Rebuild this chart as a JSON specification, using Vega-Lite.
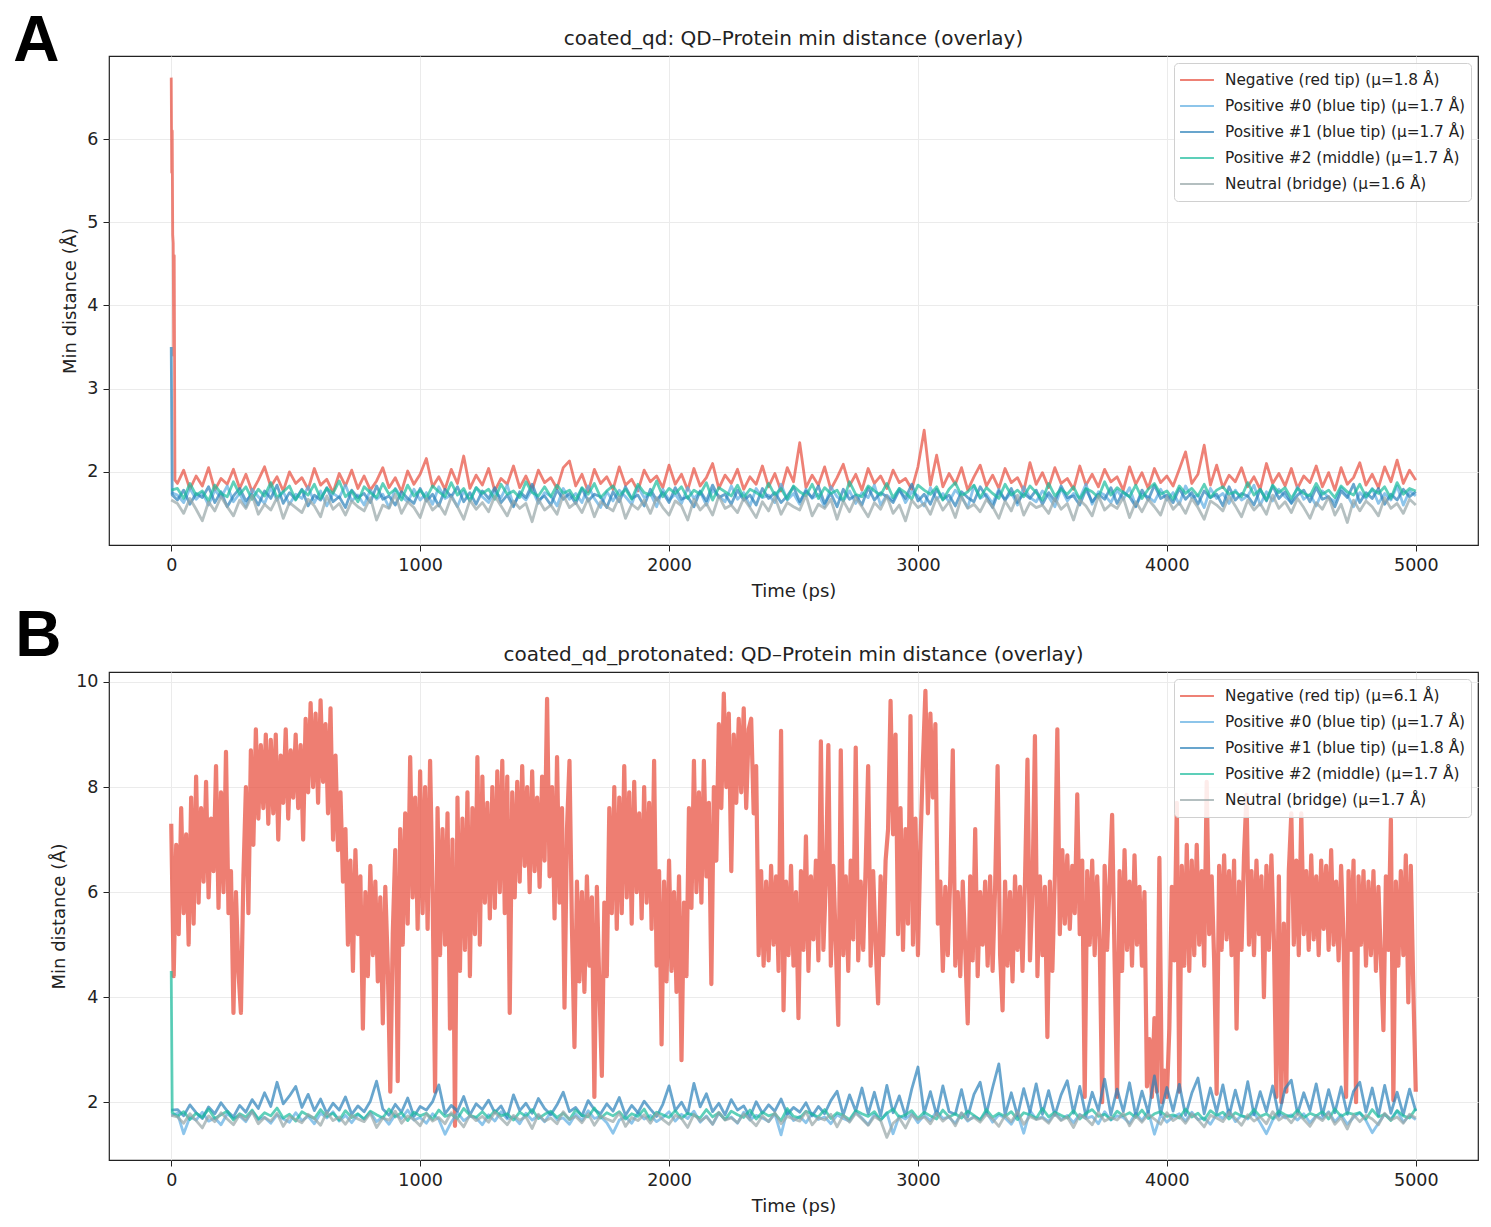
{
  "$schema": "https://vega.github.io/schema/vega-lite/v6.json",
  "background": "white",
  "padding": {"left": 13, "top": 10, "right": 8, "bottom": 5},
  "config": {
    "font": "DejaVu Sans",
    "view": {"stroke": "#222222", "strokeWidth": 1.2},
    "axis": {
      "grid": true, "gridColor": "#ebebeb", "domain": false,
      "tickColor": "#222222", "tickSize": 6, "labelPadding": 5,
      "labelFont": "DejaVu Sans", "labelFontSize": 17.5, "labelColor": "#222222",
      "titleFont": "DejaVu Sans", "titleFontSize": 18, "titleFontWeight": "normal", "titleColor": "#222222"
    },
    "legend": {
      "orient": "top-right", "offset": 7, "title": null,
      "labelFont": "DejaVu Sans", "labelFontSize": 15.3, "labelColor": "#222222", "labelLimit": 400,
      "symbolType": "stroke", "symbolSize": 1150, "symbolStrokeWidth": 2, "symbolOpacity": 0.7,
      "fillColor": "rgba(255,255,255,0.85)", "strokeColor": "#d0d0d0", "cornerRadius": 4,
      "padding": 5, "rowPadding": 2, "clipHeight": 24, "labelOffset": 10
    }
  },
  "resolve": {
    "scale": {"x": "independent", "y": "independent", "color": "independent"},
    "axis": {"x": "independent", "y": "independent"},
    "legend": {"color": "independent"}
  },
  "columns": 1,
  "align": "none",
  "spacing": 3,
  "datasets": {
    "dA": [
      {"t":0,"n":6.74,"p":1.75,"q":3.5,"r":1.78,"u":1.66},
      {"t":2,"n":5.6},{"t":4,"n":6.1,"q":1.72},{"t":6,"n":4.85},{"t":8,"n":4.75},{"t":10,"n":3.4},{"t":12,"n":4.6},{"t":15,"n":1.9},
      {"t":25,"n":1.86,"p":1.72,"q":1.66,"r":1.80,"u":1.62},
      {"t":50,"n":2.02,"p":1.63,"q":1.78,"r":1.68,"u":1.50},
      {"t":75,"n":1.79,"p":1.80,"q":1.61,"r":1.86,"u":1.68},
      {"t":100,"n":1.95,"p":1.67,"q":1.74,"r":1.72,"u":1.55},
      {"t":125,"n":1.83,"p":1.75,"q":1.69,"r":1.77,"u":1.41},
      {"t":150,"n":2.05,"p":1.60,"q":1.82,"r":1.65,"u":1.64},
      {"t":175,"n":1.78,"p":1.78,"q":1.63,"r":1.84,"u":1.53},
      {"t":200,"n":1.92,"p":1.69,"q":1.76,"r":1.74,"u":1.70},
      {"t":225,"n":1.85,"p":1.83,"q":1.58,"r":1.70,"u":1.58},
      {"t":250,"n":2.03,"p":1.64,"q":1.71,"r":1.88,"u":1.47},
      {"t":275,"n":1.80,"p":1.74,"q":1.80,"r":1.73,"u":1.66},
      {"t":300,"n":1.97,"p":1.58,"q":1.65,"r":1.82,"u":1.56},
      {"t":325,"n":1.76,"p":1.79,"q":1.73,"r":1.67,"u":1.72},
      {"t":350,"n":1.90,"p":1.70,"q":1.60,"r":1.79,"u":1.49},
      {"t":375,"n":2.06,"p":1.62,"q":1.77,"r":1.71,"u":1.61},
      {"t":400,"n":1.82,"p":1.81,"q":1.68,"r":1.87,"u":1.54},
      {"t":425,"n":1.94,"p":1.66,"q":1.84,"r":1.69,"u":1.69},
      {"t":450,"n":1.77,"p":1.76,"q":1.62,"r":1.76,"u":1.44},
      {"t":475,"n":2.00,"p":1.61,"q":1.75,"r":1.83,"u":1.63},
      {"t":500,"n":1.86,"p":1.73,"q":1.67,"r":1.66,"u":1.57},
      {"t":525,"n":1.93,"p":1.68,"q":1.79,"r":1.78,"u":1.51},
      {"t":550,"n":1.79,"p":1.82,"q":1.59,"r":1.72,"u":1.67},
      {"t":575,"n":2.04,"p":1.63,"q":1.72,"r":1.85,"u":1.59},
      {"t":600,"n":1.84,"p":1.77,"q":1.66,"r":1.68,"u":1.46},
      {"t":625,"n":1.91,"p":1.59,"q":1.81,"r":1.80,"u":1.71},
      {"t":650,"n":1.75,"p":1.74,"q":1.64,"r":1.74,"u":1.55},
      {"t":675,"n":1.98,"p":1.69,"q":1.70,"r":1.89,"u":1.62},
      {"t":700,"n":1.83,"p":1.84,"q":1.57,"r":1.70,"u":1.48},
      {"t":725,"n":2.02,"p":1.65,"q":1.78,"r":1.77,"u":1.65},
      {"t":750,"n":1.80,"p":1.72,"q":1.69,"r":1.64,"u":1.58},
      {"t":775,"n":1.95,"p":1.60,"q":1.74,"r":1.82,"u":1.53},
      {"t":800,"n":1.78,"p":1.78,"q":1.63,"r":1.75,"u":1.69},
      {"t":825,"n":1.89,"p":1.67,"q":1.83,"r":1.69,"u":1.42},
      {"t":850,"n":2.05,"p":1.73,"q":1.67,"r":1.86,"u":1.60},
      {"t":875,"n":1.81,"p":1.57,"q":1.71,"r":1.73,"u":1.56},
      {"t":900,"n":1.93,"p":1.80,"q":1.60,"r":1.79,"u":1.73},
      {"t":925,"n":1.76,"p":1.70,"q":1.76,"r":1.66,"u":1.50},
      {"t":950,"n":2.01,"p":1.64,"q":1.68,"r":1.84,"u":1.64},
      {"t":975,"n":1.85,"p":1.79,"q":1.62,"r":1.71,"u":1.57},
      {"t":1000,"n":1.97,"p":1.66,"q":1.80,"r":1.78,"u":1.45},
      {"t":1025,"n":2.16,"p":1.75,"q":1.65,"r":1.68,"u":1.68},
      {"t":1050,"n":1.82,"p":1.61,"q":1.73,"r":1.83,"u":1.54},
      {"t":1075,"n":1.94,"p":1.82,"q":1.59,"r":1.76,"u":1.61},
      {"t":1100,"n":1.79,"p":1.68,"q":1.79,"r":1.70,"u":1.49},
      {"t":1125,"n":2.03,"p":1.72,"q":1.70,"r":1.87,"u":1.70},
      {"t":1150,"n":1.86,"p":1.58,"q":1.82,"r":1.72,"u":1.58},
      {"t":1175,"n":2.19,"p":1.77,"q":1.64,"r":1.80,"u":1.43},
      {"t":1200,"n":1.80,"p":1.65,"q":1.75,"r":1.65,"u":1.66},
      {"t":1225,"n":1.96,"p":1.81,"q":1.61,"r":1.81,"u":1.55},
      {"t":1250,"n":1.84,"p":1.70,"q":1.77,"r":1.74,"u":1.63},
      {"t":1275,"n":2.04,"p":1.63,"q":1.68,"r":1.79,"u":1.52},
      {"t":1300,"n":1.77,"p":1.76,"q":1.81,"r":1.67,"u":1.71},
      {"t":1325,"n":1.92,"p":1.69,"q":1.63,"r":1.85,"u":1.59},
      {"t":1350,"n":1.85,"p":1.84,"q":1.72,"r":1.73,"u":1.47},
      {"t":1375,"n":2.07,"p":1.60,"q":1.58,"r":1.77,"u":1.65},
      {"t":1400,"n":1.81,"p":1.73,"q":1.76,"r":1.69,"u":1.56},
      {"t":1425,"n":1.95,"p":1.66,"q":1.69,"r":1.88,"u":1.62},
      {"t":1450,"n":1.78,"p":1.79,"q":1.85,"r":1.75,"u":1.40},
      {"t":1475,"n":2.02,"p":1.62,"q":1.66,"r":1.71,"u":1.67},
      {"t":1500,"n":1.87,"p":1.75,"q":1.71,"r":1.82,"u":1.54},
      {"t":1525,"n":1.93,"p":1.71,"q":1.60,"r":1.70,"u":1.60},
      {"t":1550,"n":1.80,"p":1.59,"q":1.78,"r":1.84,"u":1.49},
      {"t":1575,"n":2.05,"p":1.80,"q":1.67,"r":1.74,"u":1.72},
      {"t":1600,"n":2.13,"p":1.67,"q":1.74,"r":1.78,"u":1.57},
      {"t":1625,"n":1.83,"p":1.74,"q":1.62,"r":1.66,"u":1.63},
      {"t":1650,"n":1.97,"p":1.63,"q":1.80,"r":1.81,"u":1.51},
      {"t":1675,"n":1.76,"p":1.83,"q":1.65,"r":1.73,"u":1.68},
      {"t":1700,"n":2.03,"p":1.68,"q":1.73,"r":1.86,"u":1.46},
      {"t":1725,"n":1.86,"p":1.57,"q":1.70,"r":1.69,"u":1.64},
      {"t":1750,"n":1.94,"p":1.76,"q":1.57,"r":1.77,"u":1.58},
      {"t":1775,"n":1.79,"p":1.65,"q":1.76,"r":1.83,"u":1.53},
      {"t":1800,"n":2.06,"p":1.78,"q":1.64,"r":1.71,"u":1.70},
      {"t":1825,"n":1.84,"p":1.70,"q":1.82,"r":1.79,"u":1.44},
      {"t":1850,"n":1.91,"p":1.61,"q":1.68,"r":1.67,"u":1.61},
      {"t":1875,"n":1.77,"p":1.82,"q":1.72,"r":1.85,"u":1.55},
      {"t":1900,"n":2.02,"p":1.69,"q":1.59,"r":1.75,"u":1.66},
      {"t":1925,"n":1.88,"p":1.74,"q":1.79,"r":1.72,"u":1.50},
      {"t":1950,"n":1.95,"p":1.58,"q":1.66,"r":1.89,"u":1.69},
      {"t":1975,"n":1.81,"p":1.79,"q":1.75,"r":1.70,"u":1.57},
      {"t":2000,"n":2.08,"p":1.66,"q":1.63,"r":1.80,"u":1.48},
      {"t":2025,"n":1.85,"p":1.73,"q":1.81,"r":1.74,"u":1.65},
      {"t":2050,"n":1.97,"p":1.62,"q":1.67,"r":1.82,"u":1.59},
      {"t":2075,"n":1.78,"p":1.81,"q":1.70,"r":1.68,"u":1.42},
      {"t":2100,"n":2.04,"p":1.68,"q":1.58,"r":1.78,"u":1.67},
      {"t":2125,"n":1.83,"p":1.76,"q":1.77,"r":1.73,"u":1.54},
      {"t":2150,"n":1.93,"p":1.60,"q":1.65,"r":1.87,"u":1.62},
      {"t":2175,"n":2.10,"p":1.78,"q":1.84,"r":1.66,"u":1.48},
      {"t":2200,"n":1.80,"p":1.71,"q":1.69,"r":1.81,"u":1.71},
      {"t":2225,"n":1.96,"p":1.64,"q":1.73,"r":1.76,"u":1.56},
      {"t":2250,"n":1.86,"p":1.83,"q":1.61,"r":1.71,"u":1.60},
      {"t":2275,"n":2.03,"p":1.67,"q":1.78,"r":1.84,"u":1.51},
      {"t":2300,"n":1.79,"p":1.75,"q":1.66,"r":1.69,"u":1.68},
      {"t":2325,"n":1.94,"p":1.59,"q":1.72,"r":1.79,"u":1.57},
      {"t":2350,"n":1.85,"p":1.80,"q":1.60,"r":1.75,"u":1.45},
      {"t":2375,"n":2.07,"p":1.69,"q":1.80,"r":1.70,"u":1.64},
      {"t":2400,"n":1.82,"p":1.72,"q":1.68,"r":1.86,"u":1.53},
      {"t":2425,"n":1.98,"p":1.63,"q":1.75,"r":1.72,"u":1.70},
      {"t":2450,"n":1.77,"p":1.85,"q":1.63,"r":1.80,"u":1.49},
      {"t":2475,"n":2.05,"p":1.66,"q":1.71,"r":1.67,"u":1.63},
      {"t":2500,"n":1.88,"p":1.74,"q":1.82,"r":1.83,"u":1.58},
      {"t":2525,"n":2.35,"p":1.61,"q":1.64,"r":1.76,"u":1.54},
      {"t":2550,"n":1.81,"p":1.79,"q":1.77,"r":1.71,"u":1.72},
      {"t":2575,"n":1.96,"p":1.68,"q":1.69,"r":1.85,"u":1.47},
      {"t":2600,"n":1.84,"p":1.73,"q":1.83,"r":1.68,"u":1.61},
      {"t":2625,"n":2.06,"p":1.58,"q":1.62,"r":1.81,"u":1.56},
      {"t":2650,"n":1.79,"p":1.82,"q":1.74,"r":1.74,"u":1.67},
      {"t":2675,"n":1.93,"p":1.70,"q":1.58,"r":1.78,"u":1.43},
      {"t":2700,"n":2.09,"p":1.65,"q":1.79,"r":1.65,"u":1.65},
      {"t":2725,"n":1.83,"p":1.77,"q":1.67,"r":1.88,"u":1.52},
      {"t":2750,"n":1.97,"p":1.62,"q":1.72,"r":1.73,"u":1.69},
      {"t":2775,"n":1.78,"p":1.75,"q":1.60,"r":1.70,"u":1.58},
      {"t":2800,"n":2.04,"p":1.69,"q":1.81,"r":1.83,"u":1.46},
      {"t":2825,"n":1.86,"p":1.84,"q":1.66,"r":1.77,"u":1.63},
      {"t":2850,"n":1.95,"p":1.60,"q":1.75,"r":1.72,"u":1.55},
      {"t":2875,"n":1.80,"p":1.72,"q":1.70,"r":1.86,"u":1.71},
      {"t":2900,"n":2.02,"p":1.66,"q":1.63,"r":1.69,"u":1.50},
      {"t":2925,"n":1.87,"p":1.80,"q":1.78,"r":1.80,"u":1.60},
      {"t":2950,"n":1.92,"p":1.63,"q":1.68,"r":1.75,"u":1.41},
      {"t":2975,"n":1.79,"p":1.76,"q":1.85,"r":1.67,"u":1.66},
      {"t":3000,"n":2.06,"p":1.71,"q":1.65,"r":1.84,"u":1.57},
      {"t":3025,"n":2.50,"p":1.59,"q":1.73,"r":1.78,"u":1.62},
      {"t":3050,"n":1.84,"p":1.81,"q":1.61,"r":1.73,"u":1.49},
      {"t":3075,"n":2.20,"p":1.67,"q":1.79,"r":1.82,"u":1.69},
      {"t":3100,"n":1.82,"p":1.74,"q":1.67,"r":1.66,"u":1.54},
      {"t":3125,"n":1.98,"p":1.64,"q":1.72,"r":1.79,"u":1.64},
      {"t":3150,"n":1.85,"p":1.78,"q":1.59,"r":1.87,"u":1.45},
      {"t":3175,"n":2.05,"p":1.70,"q":1.76,"r":1.71,"u":1.70},
      {"t":3200,"n":1.78,"p":1.57,"q":1.69,"r":1.76,"u":1.56},
      {"t":3225,"n":1.94,"p":1.83,"q":1.64,"r":1.84,"u":1.61},
      {"t":3250,"n":2.08,"p":1.68,"q":1.82,"r":1.69,"u":1.52},
      {"t":3275,"n":1.83,"p":1.73,"q":1.70,"r":1.81,"u":1.67},
      {"t":3300,"n":1.96,"p":1.62,"q":1.57,"r":1.74,"u":1.58},
      {"t":3325,"n":1.80,"p":1.79,"q":1.77,"r":1.68,"u":1.44},
      {"t":3350,"n":2.04,"p":1.66,"q":1.66,"r":1.85,"u":1.65},
      {"t":3375,"n":1.87,"p":1.75,"q":1.80,"r":1.72,"u":1.53},
      {"t":3400,"n":1.93,"p":1.60,"q":1.63,"r":1.78,"u":1.72},
      {"t":3425,"n":1.77,"p":1.82,"q":1.74,"r":1.70,"u":1.48},
      {"t":3450,"n":2.11,"p":1.69,"q":1.68,"r":1.83,"u":1.63},
      {"t":3475,"n":1.85,"p":1.64,"q":1.78,"r":1.75,"u":1.57},
      {"t":3500,"n":1.99,"p":1.77,"q":1.61,"r":1.66,"u":1.60},
      {"t":3525,"n":1.81,"p":1.70,"q":1.75,"r":1.86,"u":1.50},
      {"t":3550,"n":2.05,"p":1.58,"q":1.65,"r":1.71,"u":1.68},
      {"t":3575,"n":1.86,"p":1.80,"q":1.83,"r":1.79,"u":1.55},
      {"t":3600,"n":1.92,"p":1.65,"q":1.69,"r":1.73,"u":1.62},
      {"t":3625,"n":1.79,"p":1.74,"q":1.71,"r":1.82,"u":1.42},
      {"t":3650,"n":2.07,"p":1.68,"q":1.60,"r":1.67,"u":1.66},
      {"t":3675,"n":1.84,"p":1.85,"q":1.79,"r":1.80,"u":1.59},
      {"t":3700,"n":1.97,"p":1.61,"q":1.64,"r":1.76,"u":1.47},
      {"t":3725,"n":1.82,"p":1.76,"q":1.73,"r":1.69,"u":1.71},
      {"t":3750,"n":2.03,"p":1.72,"q":1.67,"r":1.88,"u":1.54},
      {"t":3775,"n":1.88,"p":1.63,"q":1.81,"r":1.72,"u":1.61},
      {"t":3800,"n":1.94,"p":1.78,"q":1.62,"r":1.81,"u":1.56},
      {"t":3825,"n":1.78,"p":1.67,"q":1.76,"r":1.75,"u":1.69},
      {"t":3850,"n":2.06,"p":1.81,"q":1.70,"r":1.70,"u":1.45},
      {"t":3875,"n":1.85,"p":1.59,"q":1.58,"r":1.84,"u":1.64},
      {"t":3900,"n":1.99,"p":1.73,"q":1.78,"r":1.68,"u":1.52},
      {"t":3925,"n":1.80,"p":1.70,"q":1.66,"r":1.79,"u":1.67},
      {"t":3950,"n":2.04,"p":1.64,"q":1.84,"r":1.86,"u":1.58},
      {"t":3975,"n":1.87,"p":1.79,"q":1.68,"r":1.73,"u":1.48},
      {"t":4000,"n":1.95,"p":1.66,"q":1.72,"r":1.77,"u":1.70},
      {"t":4025,"n":1.83,"p":1.75,"q":1.63,"r":1.67,"u":1.55},
      {"t":4050,"n":2.03,"p":1.61,"q":1.80,"r":1.83,"u":1.63},
      {"t":4075,"n":2.24,"p":1.83,"q":1.67,"r":1.74,"u":1.50},
      {"t":4100,"n":1.86,"p":1.69,"q":1.75,"r":1.80,"u":1.68},
      {"t":4125,"n":1.97,"p":1.72,"q":1.61,"r":1.71,"u":1.57},
      {"t":4150,"n":2.32,"p":1.57,"q":1.77,"r":1.85,"u":1.43},
      {"t":4175,"n":1.84,"p":1.80,"q":1.69,"r":1.69,"u":1.65},
      {"t":4200,"n":2.08,"p":1.68,"q":1.73,"r":1.78,"u":1.60},
      {"t":4225,"n":1.81,"p":1.74,"q":1.59,"r":1.82,"u":1.53},
      {"t":4250,"n":1.96,"p":1.62,"q":1.82,"r":1.73,"u":1.71},
      {"t":4275,"n":1.88,"p":1.78,"q":1.66,"r":1.76,"u":1.59},
      {"t":4300,"n":2.05,"p":1.66,"q":1.74,"r":1.70,"u":1.46},
      {"t":4325,"n":1.82,"p":1.71,"q":1.71,"r":1.87,"u":1.66},
      {"t":4350,"n":1.94,"p":1.84,"q":1.60,"r":1.72,"u":1.54},
      {"t":4375,"n":1.79,"p":1.60,"q":1.79,"r":1.79,"u":1.62},
      {"t":4400,"n":2.10,"p":1.76,"q":1.65,"r":1.66,"u":1.49},
      {"t":4425,"n":1.86,"p":1.65,"q":1.83,"r":1.84,"u":1.72},
      {"t":4450,"n":1.98,"p":1.79,"q":1.68,"r":1.75,"u":1.56},
      {"t":4475,"n":1.83,"p":1.70,"q":1.76,"r":1.81,"u":1.64},
      {"t":4500,"n":2.04,"p":1.63,"q":1.62,"r":1.68,"u":1.51},
      {"t":4525,"n":1.80,"p":1.82,"q":1.72,"r":1.80,"u":1.68},
      {"t":4550,"n":1.95,"p":1.67,"q":1.78,"r":1.74,"u":1.57},
      {"t":4575,"n":1.87,"p":1.73,"q":1.64,"r":1.71,"u":1.44},
      {"t":4600,"n":2.07,"p":1.59,"q":1.81,"r":1.86,"u":1.63},
      {"t":4625,"n":1.82,"p":1.77,"q":1.67,"r":1.73,"u":1.55},
      {"t":4650,"n":1.99,"p":1.69,"q":1.70,"r":1.78,"u":1.70},
      {"t":4675,"n":1.78,"p":1.64,"q":1.58,"r":1.69,"u":1.48},
      {"t":4700,"n":2.05,"p":1.81,"q":1.77,"r":1.83,"u":1.61},
      {"t":4725,"n":1.85,"p":1.72,"q":1.69,"r":1.76,"u":1.39},
      {"t":4750,"n":1.93,"p":1.58,"q":1.85,"r":1.72,"u":1.66},
      {"t":4775,"n":2.11,"p":1.75,"q":1.63,"r":1.85,"u":1.53},
      {"t":4800,"n":1.84,"p":1.68,"q":1.75,"r":1.70,"u":1.65},
      {"t":4825,"n":1.97,"p":1.80,"q":1.68,"r":1.79,"u":1.58},
      {"t":4850,"n":1.81,"p":1.62,"q":1.80,"r":1.74,"u":1.47},
      {"t":4875,"n":2.06,"p":1.74,"q":1.61,"r":1.82,"u":1.69},
      {"t":4900,"n":1.88,"p":1.66,"q":1.73,"r":1.68,"u":1.56},
      {"t":4925,"n":2.14,"p":1.83,"q":1.66,"r":1.87,"u":1.62},
      {"t":4950,"n":1.86,"p":1.60,"q":1.79,"r":1.73,"u":1.50},
      {"t":4975,"n":2.02,"p":1.77,"q":1.70,"r":1.80,"u":1.67},
      {"t":5000,"n":1.90,"p":1.71,"q":1.76,"r":1.77,"u":1.60}
    ],
    "dB": [
      {"t":0,"p":1.75,"q":1.85,"r":4.5,"u":1.75},
      {"t":4,"r":1.8},
      {"t":25,"p":1.79,"q":1.86,"r":1.73,"u":1.72},
      {"t":50,"p":1.40,"q":1.74,"r":1.82,"u":1.60},
      {"t":75,"p":1.72,"q":1.95,"r":1.67,"u":1.78},
      {"t":100,"p":1.66,"q":1.80,"r":1.79,"u":1.65},
      {"t":125,"p":1.81,"q":1.69,"r":1.71,"u":1.51},
      {"t":150,"p":1.64,"q":1.91,"r":1.87,"u":1.74},
      {"t":175,"p":1.70,"q":1.78,"r":1.69,"u":1.63},
      {"t":200,"p":1.57,"q":1.99,"r":1.76,"u":1.80},
      {"t":225,"p":1.78,"q":1.83,"r":1.83,"u":1.68},
      {"t":250,"p":1.69,"q":1.72,"r":1.66,"u":1.57},
      {"t":275,"p":1.74,"q":1.94,"r":1.78,"u":1.76},
      {"t":300,"p":1.63,"q":1.81,"r":1.72,"u":1.66},
      {"t":325,"p":1.83,"q":2.05,"r":1.85,"u":1.82},
      {"t":350,"p":1.67,"q":1.88,"r":1.68,"u":1.59},
      {"t":375,"p":1.71,"q":2.18,"r":1.80,"u":1.71},
      {"t":400,"p":1.60,"q":1.92,"r":1.74,"u":1.64},
      {"t":425,"p":1.76,"q":2.38,"r":1.89,"u":1.79},
      {"t":450,"p":1.68,"q":1.97,"r":1.70,"u":1.54},
      {"t":475,"p":1.62,"q":2.12,"r":1.77,"u":1.73},
      {"t":500,"p":1.80,"q":2.30,"r":1.64,"u":1.67},
      {"t":525,"p":1.65,"q":1.90,"r":1.82,"u":1.61},
      {"t":550,"p":1.73,"q":2.15,"r":1.75,"u":1.77},
      {"t":575,"p":1.59,"q":1.84,"r":1.69,"u":1.69},
      {"t":600,"p":1.79,"q":2.06,"r":1.86,"u":1.56},
      {"t":625,"p":1.70,"q":1.79,"r":1.73,"u":1.81},
      {"t":650,"p":1.82,"q":1.98,"r":1.79,"u":1.65},
      {"t":675,"p":1.64,"q":1.85,"r":1.66,"u":1.72},
      {"t":700,"p":1.75,"q":2.10,"r":1.84,"u":1.58},
      {"t":725,"p":1.61,"q":1.77,"r":1.71,"u":1.75},
      {"t":750,"p":1.77,"q":1.93,"r":1.78,"u":1.68},
      {"t":775,"p":1.68,"q":1.82,"r":1.68,"u":1.63},
      {"t":800,"p":1.81,"q":2.02,"r":1.83,"u":1.79},
      {"t":825,"p":1.63,"q":2.40,"r":1.76,"u":1.52},
      {"t":850,"p":1.72,"q":1.87,"r":1.70,"u":1.70},
      {"t":875,"p":1.58,"q":1.75,"r":1.87,"u":1.66},
      {"t":900,"p":1.76,"q":1.96,"r":1.72,"u":1.83},
      {"t":925,"p":1.69,"q":1.81,"r":1.80,"u":1.60},
      {"t":950,"p":1.85,"q":2.08,"r":1.65,"u":1.74},
      {"t":975,"p":1.66,"q":1.73,"r":1.81,"u":1.67},
      {"t":1000,"p":1.71,"q":1.92,"r":1.74,"u":1.55},
      {"t":1025,"p":1.60,"q":1.85,"r":1.79,"u":1.78},
      {"t":1050,"p":1.78,"q":2.01,"r":1.67,"u":1.64},
      {"t":1075,"p":1.67,"q":2.33,"r":1.85,"u":1.71},
      {"t":1100,"p":1.39,"q":1.78,"r":1.73,"u":1.59},
      {"t":1125,"p":1.62,"q":1.94,"r":1.77,"u":1.80},
      {"t":1150,"p":1.80,"q":1.83,"r":1.69,"u":1.68},
      {"t":1175,"p":1.65,"q":2.11,"r":1.88,"u":1.53},
      {"t":1200,"p":1.73,"q":1.76,"r":1.75,"u":1.76},
      {"t":1225,"p":1.70,"q":1.97,"r":1.71,"u":1.65},
      {"t":1250,"p":1.57,"q":1.86,"r":1.82,"u":1.73},
      {"t":1275,"p":1.76,"q":2.04,"r":1.70,"u":1.62},
      {"t":1300,"p":1.64,"q":1.80,"r":1.84,"u":1.81},
      {"t":1325,"p":1.82,"q":1.93,"r":1.74,"u":1.69},
      {"t":1350,"p":1.68,"q":1.71,"r":1.78,"u":1.57},
      {"t":1375,"p":1.72,"q":2.14,"r":1.66,"u":1.75},
      {"t":1400,"p":1.59,"q":1.84,"r":1.81,"u":1.66},
      {"t":1425,"p":1.79,"q":1.98,"r":1.73,"u":1.72},
      {"t":1450,"p":1.66,"q":1.79,"r":1.86,"u":1.50},
      {"t":1475,"p":1.75,"q":2.07,"r":1.69,"u":1.77},
      {"t":1500,"p":1.63,"q":1.88,"r":1.77,"u":1.64},
      {"t":1525,"p":1.81,"q":1.76,"r":1.83,"u":1.70},
      {"t":1550,"p":1.67,"q":1.95,"r":1.71,"u":1.59},
      {"t":1575,"p":1.70,"q":2.19,"r":1.79,"u":1.82},
      {"t":1600,"p":1.58,"q":1.82,"r":1.67,"u":1.67},
      {"t":1625,"p":1.77,"q":1.90,"r":1.85,"u":1.73},
      {"t":1650,"p":1.65,"q":1.74,"r":1.75,"u":1.61},
      {"t":1675,"p":1.84,"q":2.03,"r":1.72,"u":1.78},
      {"t":1700,"p":1.69,"q":1.86,"r":1.89,"u":1.56},
      {"t":1725,"p":1.73,"q":1.78,"r":1.70,"u":1.74},
      {"t":1750,"p":1.61,"q":1.97,"r":1.80,"u":1.68},
      {"t":1775,"p":1.41,"q":1.83,"r":1.74,"u":1.63},
      {"t":1800,"p":1.66,"q":2.09,"r":1.82,"u":1.80},
      {"t":1825,"p":1.72,"q":1.75,"r":1.68,"u":1.54},
      {"t":1850,"p":1.60,"q":1.94,"r":1.78,"u":1.71},
      {"t":1875,"p":1.80,"q":1.80,"r":1.73,"u":1.65},
      {"t":1900,"p":1.68,"q":2.02,"r":1.87,"u":1.76},
      {"t":1925,"p":1.75,"q":1.87,"r":1.66,"u":1.60},
      {"t":1950,"p":1.63,"q":1.73,"r":1.81,"u":1.79},
      {"t":1975,"p":1.71,"q":1.96,"r":1.76,"u":1.67},
      {"t":2000,"p":1.82,"q":2.31,"r":1.71,"u":1.58},
      {"t":2025,"p":1.64,"q":1.84,"r":1.84,"u":1.75},
      {"t":2050,"p":1.77,"q":2.00,"r":1.69,"u":1.69},
      {"t":2075,"p":1.69,"q":1.78,"r":1.79,"u":1.52},
      {"t":2100,"p":1.83,"q":2.36,"r":1.75,"u":1.77},
      {"t":2125,"p":1.62,"q":1.91,"r":1.70,"u":1.64},
      {"t":2150,"p":1.74,"q":2.16,"r":1.86,"u":1.72},
      {"t":2175,"p":1.58,"q":1.82,"r":1.72,"u":1.58},
      {"t":2200,"p":1.79,"q":1.98,"r":1.80,"u":1.81},
      {"t":2225,"p":1.67,"q":1.76,"r":1.67,"u":1.66},
      {"t":2250,"p":1.72,"q":2.05,"r":1.83,"u":1.70},
      {"t":2275,"p":1.60,"q":1.85,"r":1.76,"u":1.61},
      {"t":2300,"p":1.81,"q":1.93,"r":1.71,"u":1.78},
      {"t":2325,"p":1.66,"q":1.72,"r":1.85,"u":1.67},
      {"t":2350,"p":1.75,"q":2.01,"r":1.68,"u":1.55},
      {"t":2375,"p":1.70,"q":1.79,"r":1.81,"u":1.74},
      {"t":2400,"p":1.63,"q":1.95,"r":1.74,"u":1.63},
      {"t":2425,"p":1.78,"q":1.83,"r":1.78,"u":1.80},
      {"t":2450,"p":1.38,"q":2.06,"r":1.65,"u":1.59},
      {"t":2475,"p":1.85,"q":1.77,"r":1.88,"u":1.73},
      {"t":2500,"p":1.65,"q":1.90,"r":1.73,"u":1.68},
      {"t":2525,"p":1.73,"q":1.81,"r":1.70,"u":1.64},
      {"t":2550,"p":1.61,"q":1.99,"r":1.83,"u":1.82},
      {"t":2575,"p":1.79,"q":1.74,"r":1.77,"u":1.57},
      {"t":2600,"p":1.67,"q":1.92,"r":1.72,"u":1.71},
      {"t":2625,"p":1.72,"q":1.78,"r":1.86,"u":1.66},
      {"t":2650,"p":1.59,"q":2.03,"r":1.69,"u":1.77},
      {"t":2675,"p":1.76,"q":2.21,"r":1.80,"u":1.53},
      {"t":2700,"p":1.69,"q":1.76,"r":1.75,"u":1.75},
      {"t":2725,"p":1.64,"q":2.14,"r":1.67,"u":1.62},
      {"t":2750,"p":1.82,"q":1.83,"r":1.84,"u":1.79},
      {"t":2775,"p":1.70,"q":2.27,"r":1.78,"u":1.68},
      {"t":2800,"p":1.57,"q":1.78,"r":1.73,"u":1.56},
      {"t":2825,"p":1.77,"q":2.19,"r":1.82,"u":1.73},
      {"t":2850,"p":1.66,"q":1.74,"r":1.66,"u":1.65},
      {"t":2875,"p":1.80,"q":2.32,"r":1.79,"u":1.33},
      {"t":2900,"p":1.40,"q":1.80,"r":1.87,"u":1.60},
      {"t":2925,"p":1.74,"q":2.12,"r":1.71,"u":1.70},
      {"t":2950,"p":1.68,"q":1.73,"r":1.76,"u":1.51},
      {"t":2975,"p":1.78,"q":2.25,"r":1.84,"u":1.76},
      {"t":3000,"p":1.61,"q":2.67,"r":1.69,"u":1.67},
      {"t":3025,"p":1.75,"q":1.79,"r":1.81,"u":1.72},
      {"t":3050,"p":1.65,"q":2.20,"r":1.74,"u":1.59},
      {"t":3075,"p":1.83,"q":1.75,"r":1.68,"u":1.79},
      {"t":3100,"p":1.69,"q":2.31,"r":1.85,"u":1.64},
      {"t":3125,"p":1.71,"q":1.82,"r":1.72,"u":1.74},
      {"t":3150,"p":1.60,"q":1.77,"r":1.78,"u":1.55},
      {"t":3175,"p":1.79,"q":2.24,"r":1.70,"u":1.80},
      {"t":3200,"p":1.64,"q":1.72,"r":1.83,"u":1.66},
      {"t":3225,"p":1.73,"q":2.15,"r":1.75,"u":1.71},
      {"t":3250,"p":1.67,"q":2.38,"r":1.66,"u":1.62},
      {"t":3275,"p":1.81,"q":1.78,"r":1.86,"u":1.77},
      {"t":3300,"p":1.62,"q":2.28,"r":1.71,"u":1.68},
      {"t":3325,"p":1.76,"q":2.73,"r":1.79,"u":1.54},
      {"t":3350,"p":1.70,"q":1.76,"r":1.73,"u":1.75},
      {"t":3375,"p":1.58,"q":2.18,"r":1.82,"u":1.63},
      {"t":3400,"p":1.78,"q":1.74,"r":1.67,"u":1.82},
      {"t":3425,"p":1.41,"q":2.26,"r":1.80,"u":1.58},
      {"t":3450,"p":1.84,"q":1.81,"r":1.76,"u":1.73},
      {"t":3475,"p":1.68,"q":2.35,"r":1.69,"u":1.67},
      {"t":3500,"p":1.72,"q":1.77,"r":1.88,"u":1.70},
      {"t":3525,"p":1.63,"q":2.22,"r":1.72,"u":1.60},
      {"t":3550,"p":1.80,"q":1.75,"r":1.81,"u":1.78},
      {"t":3575,"p":1.67,"q":2.14,"r":1.75,"u":1.65},
      {"t":3600,"p":1.75,"q":2.41,"r":1.70,"u":1.72},
      {"t":3625,"p":1.61,"q":1.79,"r":1.84,"u":1.52},
      {"t":3650,"p":1.77,"q":2.30,"r":1.68,"u":1.76},
      {"t":3675,"p":1.69,"q":1.73,"r":1.79,"u":1.69},
      {"t":3700,"p":1.73,"q":2.19,"r":1.86,"u":1.57},
      {"t":3725,"p":1.59,"q":1.84,"r":1.73,"u":1.81},
      {"t":3750,"p":1.82,"q":2.44,"r":1.77,"u":1.64},
      {"t":3775,"p":1.66,"q":1.76,"r":1.67,"u":1.71},
      {"t":3800,"p":1.74,"q":2.25,"r":1.83,"u":1.66},
      {"t":3825,"p":1.71,"q":1.82,"r":1.74,"u":1.79},
      {"t":3850,"p":1.60,"q":2.37,"r":1.80,"u":1.55},
      {"t":3875,"p":1.79,"q":1.74,"r":1.71,"u":1.74},
      {"t":3900,"p":1.65,"q":2.21,"r":1.85,"u":1.62},
      {"t":3925,"p":1.83,"q":1.80,"r":1.69,"u":1.77},
      {"t":3950,"p":1.39,"q":2.50,"r":1.78,"u":1.68},
      {"t":3975,"p":1.76,"q":1.77,"r":1.82,"u":1.58},
      {"t":4000,"p":1.62,"q":2.28,"r":1.73,"u":1.80},
      {"t":4025,"p":1.72,"q":1.83,"r":1.76,"u":1.65},
      {"t":4050,"p":1.78,"q":2.34,"r":1.70,"u":1.73},
      {"t":4075,"p":1.64,"q":1.75,"r":1.87,"u":1.60},
      {"t":4100,"p":1.81,"q":2.17,"r":1.72,"u":1.78},
      {"t":4125,"p":1.67,"q":2.46,"r":1.79,"u":1.67},
      {"t":4150,"p":1.70,"q":1.78,"r":1.66,"u":1.53},
      {"t":4175,"p":1.58,"q":2.27,"r":1.84,"u":1.75},
      {"t":4200,"p":1.77,"q":1.81,"r":1.75,"u":1.70},
      {"t":4225,"p":1.69,"q":2.33,"r":1.81,"u":1.63},
      {"t":4250,"p":1.85,"q":1.74,"r":1.68,"u":1.81},
      {"t":4275,"p":1.63,"q":2.23,"r":1.80,"u":1.69},
      {"t":4300,"p":1.75,"q":1.79,"r":1.74,"u":1.56},
      {"t":4325,"p":1.68,"q":2.39,"r":1.71,"u":1.76},
      {"t":4350,"p":1.80,"q":1.76,"r":1.86,"u":1.64},
      {"t":4375,"p":1.61,"q":2.20,"r":1.73,"u":1.72},
      {"t":4400,"p":1.40,"q":1.82,"r":1.78,"u":1.59},
      {"t":4425,"p":1.66,"q":2.31,"r":1.69,"u":1.82},
      {"t":4450,"p":1.79,"q":1.73,"r":1.83,"u":1.66},
      {"t":4475,"p":1.70,"q":2.26,"r":1.76,"u":1.74},
      {"t":4500,"p":1.76,"q":2.42,"r":1.72,"u":1.61},
      {"t":4525,"p":1.66,"q":1.78,"r":1.85,"u":1.78},
      {"t":4550,"p":1.78,"q":2.18,"r":1.70,"u":1.67},
      {"t":4575,"p":1.61,"q":1.84,"r":1.79,"u":1.54},
      {"t":4600,"p":1.74,"q":2.35,"r":1.74,"u":1.73},
      {"t":4625,"p":1.69,"q":1.75,"r":1.82,"u":1.65},
      {"t":4650,"p":1.82,"q":2.24,"r":1.68,"u":1.80},
      {"t":4675,"p":1.63,"q":1.80,"r":1.87,"u":1.58},
      {"t":4700,"p":1.76,"q":2.29,"r":1.73,"u":1.71},
      {"t":4725,"p":1.58,"q":1.77,"r":1.80,"u":1.49},
      {"t":4750,"p":1.71,"q":2.21,"r":1.77,"u":1.76},
      {"t":4775,"p":1.80,"q":2.38,"r":1.80,"u":1.63},
      {"t":4800,"p":1.65,"q":1.81,"r":1.68,"u":1.75},
      {"t":4825,"p":1.42,"q":2.27,"r":1.86,"u":1.68},
      {"t":4850,"p":1.60,"q":1.74,"r":1.72,"u":1.57},
      {"t":4875,"p":1.77,"q":2.32,"r":1.77,"u":1.79},
      {"t":4900,"p":1.68,"q":1.79,"r":1.65,"u":1.66},
      {"t":4925,"p":1.84,"q":2.19,"r":1.84,"u":1.72},
      {"t":4950,"p":1.62,"q":1.76,"r":1.74,"u":1.60},
      {"t":4975,"p":1.75,"q":2.25,"r":1.70,"u":1.77},
      {"t":5000,"p":1.67,"q":1.83,"r":1.88,"u":1.70}
    ],
    "nB": [
      {"t":0,"v":7.3},{"t":10,"v":4.4},{"t":20,"v":6.9},{"t":30,"v":5.2},{"t":40,"v":7.6},{"t":50,"v":5.6},{"t":60,"v":7.1},{"t":70,"v":5.0},{"t":80,"v":7.8},{"t":90,"v":5.4},
      {"t":100,"v":8.2},{"t":110,"v":5.8},{"t":120,"v":7.6},{"t":130,"v":6.2},{"t":140,"v":8.1},{"t":150,"v":5.9},{"t":160,"v":7.4},{"t":170,"v":6.4},{"t":180,"v":8.4},{"t":190,"v":5.7},
      {"t":200,"v":7.9},{"t":210,"v":6.0},{"t":220,"v":8.67},{"t":230,"v":5.6},{"t":240,"v":6.4},{"t":250,"v":3.7},{"t":260,"v":6.0},{"t":270,"v":4.5},{"t":280,"v":3.7},{"t":290,"v":6.3},
      {"t":300,"v":8.0},{"t":310,"v":5.6},{"t":320,"v":8.7},{"t":330,"v":6.9},{"t":340,"v":9.1},{"t":350,"v":7.4},{"t":360,"v":8.8},{"t":370,"v":7.6},{"t":380,"v":9.0},{"t":390,"v":7.3},
      {"t":400,"v":8.9},{"t":410,"v":7.5},{"t":420,"v":9.0},{"t":430,"v":7.0},{"t":440,"v":8.6},{"t":450,"v":7.7},{"t":460,"v":9.1},{"t":470,"v":7.4},{"t":480,"v":8.7},{"t":490,"v":7.8},
      {"t":500,"v":9.0},{"t":510,"v":7.6},{"t":520,"v":8.8},{"t":530,"v":7.0},{"t":540,"v":9.3},{"t":550,"v":7.9},{"t":560,"v":9.6},{"t":570,"v":8.0},{"t":580,"v":9.4},{"t":590,"v":7.7},
      {"t":600,"v":9.65},{"t":610,"v":8.1},{"t":620,"v":9.2},{"t":630,"v":7.5},{"t":640,"v":9.5},{"t":650,"v":7.0},{"t":660,"v":8.6},{"t":670,"v":6.8},{"t":680,"v":7.9},{"t":690,"v":6.2},
      {"t":700,"v":7.2},{"t":710,"v":5.0},{"t":720,"v":6.6},{"t":730,"v":4.5},{"t":740,"v":6.8},{"t":750,"v":5.2},{"t":760,"v":6.3},{"t":770,"v":3.4},{"t":780,"v":6.0},{"t":790,"v":4.4},
      {"t":800,"v":6.5},{"t":810,"v":4.8},{"t":820,"v":6.2},{"t":830,"v":4.3},{"t":840,"v":5.9},{"t":850,"v":3.5},{"t":860,"v":6.1},{"t":870,"v":4.6},{"t":880,"v":2.2},{"t":890,"v":5.2},
      {"t":900,"v":6.8},{"t":910,"v":2.4},{"t":920,"v":7.2},{"t":930,"v":5.0},{"t":940,"v":7.5},{"t":950,"v":5.4},{"t":960,"v":8.57},{"t":970,"v":5.9},{"t":980,"v":7.8},{"t":990,"v":5.3},
      {"t":1000,"v":8.3},{"t":1010,"v":5.6},{"t":1020,"v":8.0},{"t":1030,"v":5.3},{"t":1040,"v":8.5},{"t":1050,"v":6.0},{"t":1060,"v":2.2},{"t":1070,"v":7.6},{"t":1080,"v":4.8},{"t":1090,"v":7.2},
      {"t":1100,"v":5.0},{"t":1110,"v":7.5},{"t":1120,"v":3.4},{"t":1130,"v":7.0},{"t":1140,"v":1.55},{"t":1150,"v":7.8},{"t":1160,"v":4.5},{"t":1170,"v":7.4},{"t":1180,"v":4.9},{"t":1190,"v":7.9},
      {"t":1200,"v":4.4},{"t":1210,"v":7.6},{"t":1220,"v":5.2},{"t":1230,"v":8.57},{"t":1240,"v":5.0},{"t":1250,"v":8.2},{"t":1260,"v":5.8},{"t":1270,"v":7.7},{"t":1280,"v":5.5},{"t":1290,"v":8.0},
      {"t":1300,"v":5.7},{"t":1310,"v":8.3},{"t":1320,"v":6.0},{"t":1330,"v":8.5},{"t":1340,"v":5.6},{"t":1350,"v":8.2},{"t":1360,"v":3.7},{"t":1370,"v":7.9},{"t":1380,"v":5.9},{"t":1390,"v":8.1},
      {"t":1400,"v":6.2},{"t":1410,"v":8.4},{"t":1420,"v":6.5},{"t":1430,"v":8.0},{"t":1440,"v":6.0},{"t":1450,"v":8.3},{"t":1460,"v":6.4},{"t":1470,"v":7.8},{"t":1480,"v":6.1},{"t":1490,"v":8.2},
      {"t":1500,"v":6.6},{"t":1510,"v":9.68},{"t":1520,"v":6.3},{"t":1530,"v":8.0},{"t":1540,"v":5.5},{"t":1550,"v":8.57},{"t":1560,"v":5.8},{"t":1570,"v":7.6},{"t":1580,"v":3.8},{"t":1590,"v":7.2},
      {"t":1600,"v":8.5},{"t":1610,"v":5.3},{"t":1620,"v":3.05},{"t":1630,"v":6.2},{"t":1640,"v":4.3},{"t":1650,"v":6.0},{"t":1660,"v":4.1},{"t":1670,"v":6.3},{"t":1680,"v":4.6},{"t":1690,"v":5.9},
      {"t":1700,"v":2.1},{"t":1710,"v":6.1},{"t":1720,"v":4.2},{"t":1730,"v":2.5},{"t":1740,"v":5.8},{"t":1750,"v":4.4},{"t":1760,"v":7.6},{"t":1770,"v":5.6},{"t":1780,"v":8.0},{"t":1790,"v":5.3},
      {"t":1800,"v":7.8},{"t":1810,"v":5.6},{"t":1820,"v":8.4},{"t":1830,"v":5.9},{"t":1840,"v":7.9},{"t":1850,"v":5.4},{"t":1860,"v":8.1},{"t":1870,"v":6.0},{"t":1880,"v":7.5},{"t":1890,"v":5.5},
      {"t":1900,"v":8.0},{"t":1910,"v":5.8},{"t":1920,"v":7.7},{"t":1930,"v":5.3},{"t":1940,"v":8.5},{"t":1950,"v":4.6},{"t":1960,"v":6.4},{"t":1970,"v":3.1},{"t":1980,"v":6.2},{"t":1990,"v":4.3},
      {"t":2000,"v":6.6},{"t":2010,"v":4.5},{"t":2020,"v":6.0},{"t":2030,"v":4.1},{"t":2040,"v":6.3},{"t":2050,"v":2.8},{"t":2060,"v":5.8},{"t":2070,"v":4.4},{"t":2080,"v":7.6},{"t":2090,"v":5.7},
      {"t":2100,"v":8.5},{"t":2110,"v":6.0},{"t":2120,"v":7.9},{"t":2130,"v":5.8},{"t":2140,"v":8.5},{"t":2150,"v":6.3},{"t":2160,"v":7.7},{"t":2170,"v":4.25},{"t":2180,"v":8.0},{"t":2190,"v":6.6},
      {"t":2200,"v":9.2},{"t":2210,"v":7.6},{"t":2220,"v":9.78},{"t":2230,"v":8.0},{"t":2240,"v":9.4},{"t":2250,"v":6.4},{"t":2260,"v":9.0},{"t":2270,"v":7.7},{"t":2280,"v":9.3},{"t":2290,"v":7.9},
      {"t":2300,"v":9.5},{"t":2310,"v":7.6},{"t":2320,"v":9.1},{"t":2330,"v":9.3},{"t":2340,"v":7.5},{"t":2350,"v":8.4},{"t":2360,"v":4.8},{"t":2370,"v":6.4},{"t":2380,"v":4.6},{"t":2390,"v":6.2},
      {"t":2400,"v":4.7},{"t":2410,"v":6.5},{"t":2420,"v":5.0},{"t":2430,"v":6.3},{"t":2440,"v":4.5},{"t":2450,"v":9.07},{"t":2460,"v":3.75},{"t":2470,"v":6.2},{"t":2480,"v":4.8},{"t":2490,"v":6.5},
      {"t":2500,"v":4.6},{"t":2510,"v":6.0},{"t":2520,"v":3.6},{"t":2530,"v":6.4},{"t":2540,"v":4.9},{"t":2550,"v":7.06},{"t":2560,"v":4.5},{"t":2570,"v":6.3},{"t":2580,"v":5.1},{"t":2590,"v":6.6},
      {"t":2600,"v":4.7},{"t":2610,"v":8.87},{"t":2620,"v":4.9},{"t":2630,"v":6.2},{"t":2640,"v":8.8},{"t":2650,"v":4.6},{"t":2660,"v":6.5},{"t":2670,"v":5.0},{"t":2680,"v":3.47},{"t":2690,"v":8.7},
      {"t":2700,"v":4.8},{"t":2710,"v":6.3},{"t":2720,"v":4.5},{"t":2730,"v":6.6},{"t":2740,"v":5.1},{"t":2750,"v":8.75},{"t":2760,"v":4.7},{"t":2770,"v":6.2},{"t":2780,"v":4.9},{"t":2790,"v":6.5},
      {"t":2800,"v":8.4},{"t":2810,"v":4.6},{"t":2820,"v":6.4},{"t":2830,"v":5.0},{"t":2840,"v":3.88},{"t":2850,"v":6.3},{"t":2860,"v":4.8},{"t":2870,"v":6.6},{"t":2880,"v":7.2},{"t":2890,"v":9.64},
      {"t":2900,"v":7.1},{"t":2910,"v":9.0},{"t":2920,"v":5.2},{"t":2930,"v":7.6},{"t":2940,"v":4.9},{"t":2950,"v":7.2},{"t":2960,"v":5.4},{"t":2970,"v":9.35},{"t":2980,"v":5.0},{"t":2990,"v":7.4},
      {"t":3000,"v":4.8},{"t":3010,"v":6.9},{"t":3020,"v":8.5},{"t":3030,"v":9.83},{"t":3040,"v":7.5},{"t":3050,"v":9.4},{"t":3060,"v":7.8},{"t":3070,"v":9.2},{"t":3080,"v":5.4},{"t":3090,"v":6.2},
      {"t":3100,"v":4.5},{"t":3110,"v":6.1},{"t":3120,"v":4.8},{"t":3130,"v":6.3},{"t":3140,"v":8.7},{"t":3150,"v":4.6},{"t":3160,"v":6.0},{"t":3170,"v":4.4},{"t":3180,"v":6.2},{"t":3190,"v":4.9},
      {"t":3200,"v":3.5},{"t":3210,"v":6.3},{"t":3220,"v":4.7},{"t":3230,"v":7.2},{"t":3240,"v":4.4},{"t":3250,"v":6.0},{"t":3260,"v":5.0},{"t":3270,"v":6.2},{"t":3280,"v":4.6},{"t":3290,"v":6.3},
      {"t":3300,"v":4.5},{"t":3310,"v":6.1},{"t":3320,"v":8.4},{"t":3330,"v":4.8},{"t":3340,"v":3.75},{"t":3350,"v":6.2},{"t":3360,"v":4.6},{"t":3370,"v":6.0},{"t":3380,"v":4.3},{"t":3390,"v":6.3},
      {"t":3400,"v":4.9},{"t":3410,"v":6.1},{"t":3420,"v":4.5},{"t":3430,"v":6.2},{"t":3440,"v":8.52},{"t":3450,"v":4.7},{"t":3460,"v":6.0},{"t":3470,"v":8.97},{"t":3480,"v":4.4},{"t":3490,"v":6.3},
      {"t":3500,"v":4.8},{"t":3510,"v":6.1},{"t":3520,"v":3.24},{"t":3530,"v":6.2},{"t":3540,"v":4.5},{"t":3550,"v":6.3},{"t":3560,"v":9.1},{"t":3570,"v":5.2},{"t":3580,"v":6.8},{"t":3590,"v":5.4},
      {"t":3600,"v":6.7},{"t":3610,"v":5.3},{"t":3620,"v":6.5},{"t":3630,"v":5.6},{"t":3640,"v":7.86},{"t":3650,"v":5.2},{"t":3660,"v":6.6},{"t":3670,"v":2.1},{"t":3680,"v":6.4},{"t":3690,"v":5.0},
      {"t":3700,"v":6.6},{"t":3710,"v":4.8},{"t":3720,"v":6.3},{"t":3730,"v":5.1},{"t":3740,"v":2.0},{"t":3750,"v":6.5},{"t":3760,"v":4.9},{"t":3770,"v":6.2},{"t":3780,"v":7.47},{"t":3790,"v":4.7},
      {"t":3800,"v":2.1},{"t":3810,"v":6.4},{"t":3820,"v":4.5},{"t":3830,"v":6.8},{"t":3840,"v":4.9},{"t":3850,"v":6.2},{"t":3860,"v":4.6},{"t":3870,"v":6.7},{"t":3880,"v":5.0},{"t":3890,"v":6.1},
      {"t":3900,"v":4.6},{"t":3910,"v":6.0},{"t":3920,"v":2.3},{"t":3930,"v":3.2},{"t":3940,"v":2.1},{"t":3950,"v":3.6},{"t":3960,"v":2.2},{"t":3970,"v":6.65},{"t":3980,"v":2.0},{"t":3990,"v":2.6},
      {"t":4000,"v":2.1},{"t":4010,"v":3.4},{"t":4020,"v":6.1},{"t":4030,"v":4.7},{"t":4040,"v":7.7},{"t":4050,"v":2.2},{"t":4060,"v":6.5},{"t":4070,"v":4.6},{"t":4080,"v":6.9},{"t":4090,"v":4.5},
      {"t":4100,"v":6.6},{"t":4110,"v":4.8},{"t":4120,"v":6.9},{"t":4130,"v":5.0},{"t":4140,"v":6.4},{"t":4150,"v":4.6},{"t":4160,"v":8.1},{"t":4170,"v":5.2},{"t":4180,"v":6.3},{"t":4190,"v":4.7},
      {"t":4200,"v":2.16},{"t":4210,"v":6.5},{"t":4220,"v":4.9},{"t":4230,"v":6.7},{"t":4240,"v":5.1},{"t":4250,"v":6.4},{"t":4260,"v":4.8},{"t":4270,"v":6.6},{"t":4280,"v":3.4},{"t":4290,"v":6.2},
      {"t":4300,"v":4.9},{"t":4310,"v":6.7},{"t":4320,"v":7.85},{"t":4330,"v":5.0},{"t":4340,"v":6.4},{"t":4350,"v":4.8},{"t":4360,"v":6.6},{"t":4370,"v":5.2},{"t":4380,"v":6.3},{"t":4390,"v":4.0},
      {"t":4400,"v":6.5},{"t":4410,"v":4.9},{"t":4420,"v":6.7},{"t":4430,"v":5.1},{"t":4440,"v":2.1},{"t":4450,"v":6.3},{"t":4460,"v":2.0},{"t":4470,"v":5.4},{"t":4480,"v":2.2},{"t":4490,"v":6.4},
      {"t":4500,"v":7.5},{"t":4510,"v":5.0},{"t":4520,"v":6.6},{"t":4530,"v":4.8},{"t":4540,"v":7.5},{"t":4550,"v":5.2},{"t":4560,"v":6.4},{"t":4570,"v":4.9},{"t":4580,"v":6.7},{"t":4590,"v":5.1},
      {"t":4600,"v":6.3},{"t":4610,"v":4.8},{"t":4620,"v":6.6},{"t":4630,"v":5.3},{"t":4640,"v":6.5},{"t":4650,"v":4.9},{"t":4660,"v":6.8},{"t":4670,"v":5.0},{"t":4680,"v":6.2},{"t":4690,"v":4.7},
      {"t":4700,"v":6.5},{"t":4710,"v":5.1},{"t":4720,"v":2.1},{"t":4730,"v":6.4},{"t":4740,"v":4.9},{"t":4750,"v":6.6},{"t":4760,"v":2.0},{"t":4770,"v":6.3},{"t":4780,"v":5.0},{"t":4790,"v":6.4},
      {"t":4800,"v":4.6},{"t":4810,"v":6.2},{"t":4820,"v":4.8},{"t":4830,"v":6.4},{"t":4840,"v":4.5},{"t":4850,"v":6.1},{"t":4860,"v":4.7},{"t":4870,"v":3.37},{"t":4880,"v":6.3},{"t":4890,"v":4.9},
      {"t":4900,"v":7.38},{"t":4910,"v":2.04},{"t":4920,"v":6.2},{"t":4930,"v":4.6},{"t":4940,"v":6.4},{"t":4950,"v":4.8},{"t":4960,"v":6.7},{"t":4970,"v":3.9},{"t":4980,"v":6.5},{"t":4990,"v":4.2},
      {"t":5000,"v":2.2}
    ]
  },
  "concat": [
    {
      "title": {"text": "A", "font": "Liberation Sans", "fontSize": 64, "fontWeight": "bold", "color": "black", "anchor": "start", "frame": "bounds", "offset": -46, "dx": -48},
      "resolve": {"scale": {"color": "independent"}, "legend": {"color": "independent"}},
      "vconcat": [
        {
          "width": 1369,
          "height": 489,
          "title": {"text": "coated_qd: QD–Protein min distance (overlay)", "font": "DejaVu Sans", "fontSize": 20, "fontWeight": "normal", "color": "#222222", "anchor": "middle", "offset": 7},
          "data": {"name": "dA"},
          "transform": [
            {"fold": ["n", "p", "q", "r", "u"], "as": ["k", "v"]},
            {"filter": "isValid(datum.v)"}
          ],
          "mark": {"type": "line", "strokeWidth": 2.8, "strokeJoin": "round", "opacity": 0.7},
          "encoding": {
            "x": {"field": "t", "type": "quantitative", "scale": {"domain": [-250, 5250], "nice": false, "zero": false}, "axis": {"values": [0, 1000, 2000, 3000, 4000, 5000], "format": "d", "title": "Time (ps)", "titlePadding": 9}},
            "y": {"field": "v", "type": "quantitative", "scale": {"domain": [1.12, 7.0], "nice": false, "zero": false}, "axis": {"values": [2, 3, 4, 5, 6], "title": "Min distance (Å)", "titlePadding": 7}},
            "color": {
              "field": "k", "type": "nominal",
              "scale": {"domain": ["n", "p", "q", "r", "u"], "range": ["#e74c3c", "#5dade2", "#2980b9", "#1abc9c", "#95a5a6"]},
              "legend": {"labelExpr": "datum.label == 'n' ? 'Negative (red tip) (μ=1.8 Å)' : datum.label == 'p' ? 'Positive #0 (blue tip) (μ=1.7 Å)' : datum.label == 'q' ? 'Positive #1 (blue tip) (μ=1.7 Å)' : datum.label == 'r' ? 'Positive #2 (middle) (μ=1.7 Å)' : 'Neutral (bridge) (μ=1.6 Å)'"}
            }
          }
        }
      ]
    },
    {
      "title": {"text": "B", "font": "Liberation Sans", "fontSize": 64, "fontWeight": "bold", "color": "black", "anchor": "start", "frame": "bounds", "offset": -25, "dx": -35},
      "resolve": {"scale": {"color": "independent"}, "legend": {"color": "independent"}},
      "vconcat": [
        {
          "width": 1369,
          "height": 488,
          "title": {"text": "coated_qd_protonated: QD–Protein min distance (overlay)", "font": "DejaVu Sans", "fontSize": 20, "fontWeight": "normal", "color": "#222222", "anchor": "middle", "offset": 7},
          "encoding": {
            "x": {"field": "t", "type": "quantitative", "scale": {"domain": [-250, 5250], "nice": false, "zero": false}, "axis": {"values": [0, 1000, 2000, 3000, 4000, 5000], "format": "d", "title": "Time (ps)", "titlePadding": 9}},
            "y": {"field": "v", "type": "quantitative", "scale": {"domain": [0.9, 10.19], "nice": false, "zero": false}, "axis": {"values": [2, 4, 6, 8, 10], "title": "Min distance (Å)", "titlePadding": 7}}
          },
          "layer": [
            {
              "data": {"name": "nB"},
              "mark": {"type": "line", "strokeWidth": 4.2, "strokeJoin": "round", "opacity": 0.72},
              "encoding": {
                "color": {
                  "datum": "n", "type": "nominal",
                  "scale": {"domain": ["n", "p", "q", "r", "u"], "range": ["#e74c3c", "#5dade2", "#2980b9", "#1abc9c", "#95a5a6"]},
                  "legend": {"labelExpr": "datum.label == 'n' ? 'Negative (red tip) (μ=6.1 Å)' : datum.label == 'p' ? 'Positive #0 (blue tip) (μ=1.7 Å)' : datum.label == 'q' ? 'Positive #1 (blue tip) (μ=1.8 Å)' : datum.label == 'r' ? 'Positive #2 (middle) (μ=1.7 Å)' : 'Neutral (bridge) (μ=1.7 Å)'"}
                }
              }
            },
            {
              "data": {"name": "dB"},
              "transform": [
                {"fold": ["p", "q", "r", "u"], "as": ["k", "v"]},
                {"filter": "isValid(datum.v)"}
              ],
              "mark": {"type": "line", "strokeWidth": 2.8, "strokeJoin": "round", "opacity": 0.7},
              "encoding": {
                "color": {
                  "field": "k", "type": "nominal",
                  "scale": {"domain": ["n", "p", "q", "r", "u"], "range": ["#e74c3c", "#5dade2", "#2980b9", "#1abc9c", "#95a5a6"]},
                  "legend": {"labelExpr": "datum.label == 'n' ? 'Negative (red tip) (μ=6.1 Å)' : datum.label == 'p' ? 'Positive #0 (blue tip) (μ=1.7 Å)' : datum.label == 'q' ? 'Positive #1 (blue tip) (μ=1.8 Å)' : datum.label == 'r' ? 'Positive #2 (middle) (μ=1.7 Å)' : 'Neutral (bridge) (μ=1.7 Å)'"}
                }
              }
            }
          ]
        }
      ]
    }
  ]
}
